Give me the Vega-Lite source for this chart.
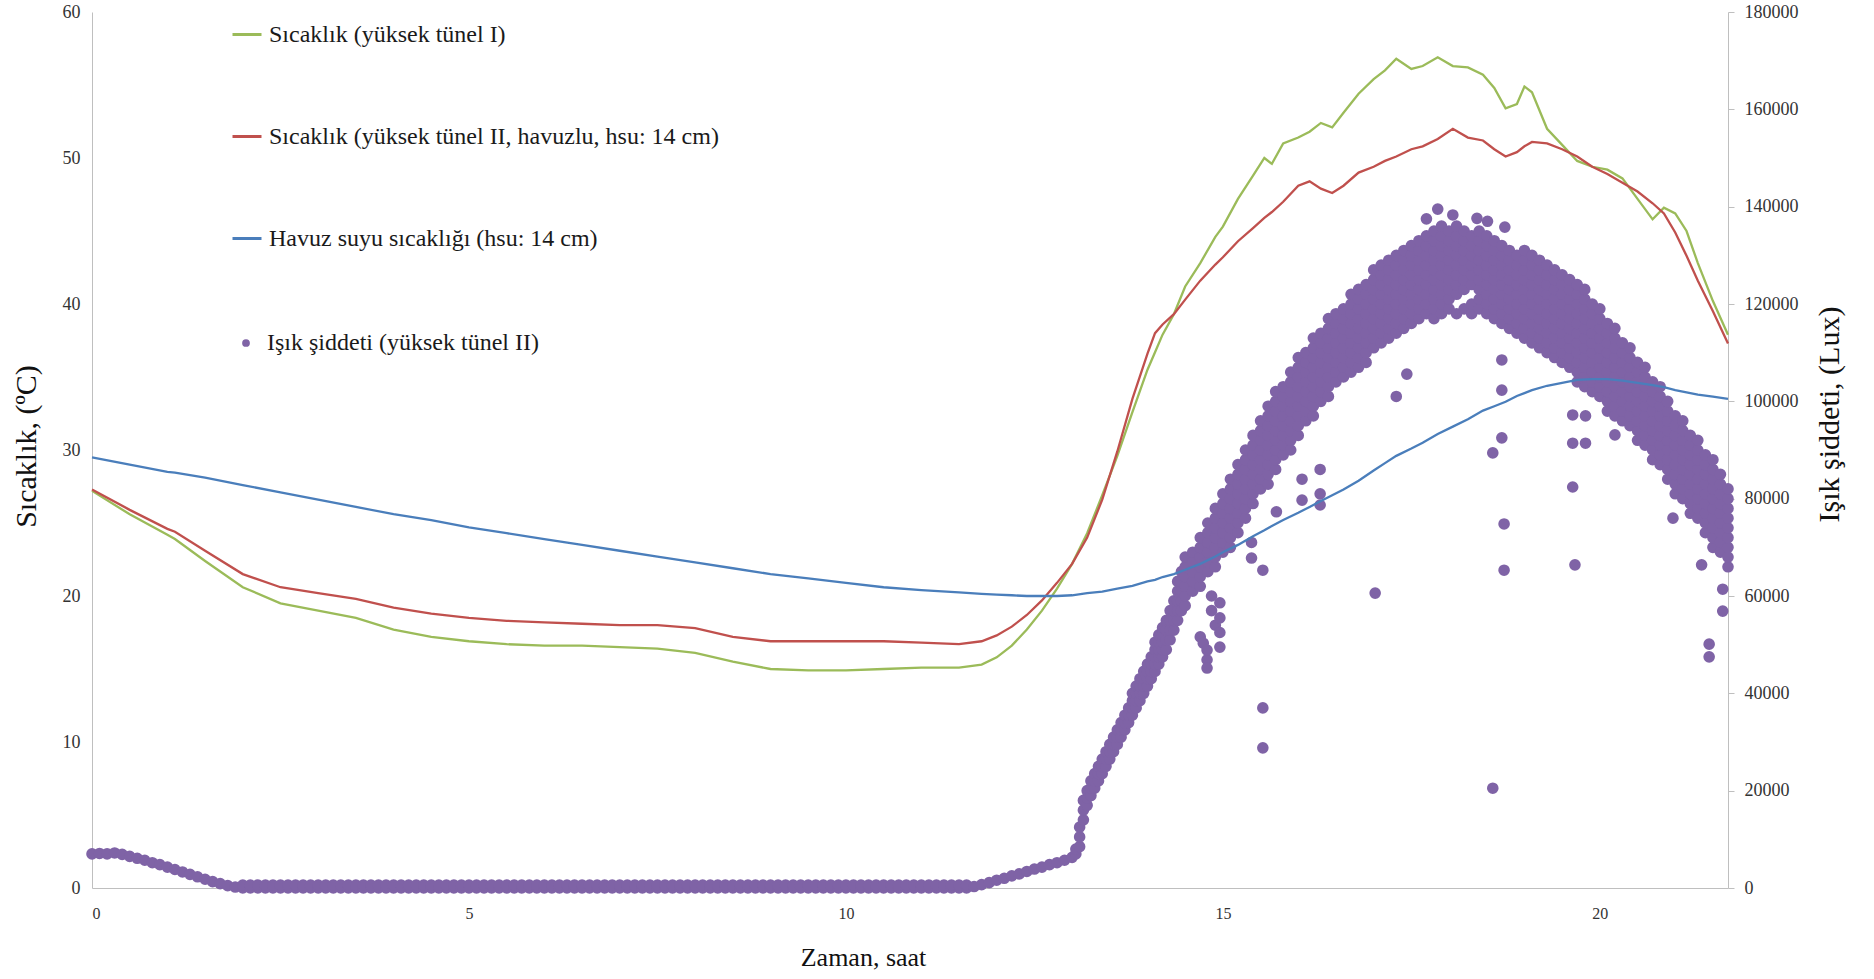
{
  "$schema": "https://vega.github.io/schema/vega-lite/v6.json",
  "width": 1636,
  "height": 876,
  "autosize": {"type": "none"},
  "padding": {"left": 92, "top": 12, "right": 146, "bottom": 91},
  "background": "white",
  "config": {"view": {"stroke": null}, "font": "Liberation Serif", "axis": {"grid": false}},
  "datasets": {
    "temps": [
      {"t":0,"g":27.2,"r":27.3,"b":29.5},{"t":0.5,"g":25.6,"r":25.9,"b":29.0},{"t":1.0,"g":24.2,"r":24.6,"b":28.5},{"t":1.1,"g":23.9,"r":24.4,"b":28.45},{"t":1.5,"g":22.4,"r":23.1,"b":28.1},
      {"t":2.0,"g":20.6,"r":21.5,"b":27.6},{"t":2.5,"g":19.5,"r":20.6,"b":27.1},{"t":3.0,"g":19.0,"r":20.2,"b":26.6},{"t":3.5,"g":18.5,"r":19.8,"b":26.1},
      {"t":4.0,"g":17.7,"r":19.2,"b":25.6},{"t":4.5,"g":17.2,"r":18.8,"b":25.2},{"t":5.0,"g":16.9,"r":18.5,"b":24.7},{"t":5.5,"g":16.7,"r":18.3,"b":24.3},
      {"t":6.0,"g":16.6,"r":18.2,"b":23.9},{"t":6.5,"g":16.6,"r":18.1,"b":23.5},{"t":7.0,"g":16.5,"r":18.0,"b":23.1},{"t":7.5,"g":16.4,"r":18.0,"b":22.7},
      {"t":8.0,"g":16.1,"r":17.8,"b":22.3},{"t":8.5,"g":15.5,"r":17.2,"b":21.9},{"t":9.0,"g":15.0,"r":16.9,"b":21.5},{"t":9.5,"g":14.9,"r":16.9,"b":21.2},
      {"t":10.0,"g":14.9,"r":16.9,"b":20.9},{"t":10.5,"g":15.0,"r":16.9,"b":20.6},{"t":11.0,"g":15.1,"r":16.8,"b":20.4},{"t":11.5,"g":15.1,"r":16.7,"b":20.25},
      {"t":11.8,"g":15.3,"r":16.9,"b":20.15},{"t":12.0,"g":15.8,"r":17.3,"b":20.1},{"t":12.2,"g":16.6,"r":17.9,"b":20.05},{"t":12.4,"g":17.7,"r":18.7,"b":20.0},
      {"t":12.6,"g":19.0,"r":19.7,"b":20.0},{"t":12.8,"g":20.5,"r":20.9,"b":20.0},{"t":13.0,"g":22.2,"r":22.2,"b":20.05},{"t":13.2,"g":24.3,"r":24.0,"b":20.2},
      {"t":13.4,"g":26.9,"r":26.6,"b":20.3},{"t":13.6,"g":29.6,"r":29.9,"b":20.5},{"t":13.8,"g":32.6,"r":33.5,"b":20.7},{"t":14.0,"g":35.5,"r":36.6,"b":21.0},
      {"t":14.1,"g":36.7,"r":38.0,"b":21.1},{"t":14.2,"g":37.9,"r":38.6,"b":21.3},{"t":14.35,"g":39.3,"r":39.3,"b":21.5},{"t":14.5,"g":41.2,"r":40.3,"b":21.8},
      {"t":14.7,"g":42.8,"r":41.6,"b":22.2},{"t":14.9,"g":44.6,"r":42.7,"b":22.7},{"t":15.0,"g":45.3,"r":43.2,"b":23.0},{"t":15.2,"g":47.2,"r":44.3,"b":23.5},
      {"t":15.4,"g":48.8,"r":45.2,"b":24.1},{"t":15.55,"g":50.0,"r":45.9,"b":24.5},{"t":15.65,"g":49.6,"r":46.3,"b":24.8},{"t":15.8,"g":51.0,"r":47.0,"b":25.2},
      {"t":16.0,"g":51.4,"r":48.1,"b":25.7},{"t":16.15,"g":51.8,"r":48.4,"b":26.1},{"t":16.3,"g":52.4,"r":47.9,"b":26.5},{"t":16.45,"g":52.1,"r":47.6,"b":26.9},
      {"t":16.6,"g":53.1,"r":48.1,"b":27.3},{"t":16.8,"g":54.4,"r":49.0,"b":27.9},{"t":17.0,"g":55.4,"r":49.4,"b":28.6},{"t":17.15,"g":56.0,"r":49.8,"b":29.1},
      {"t":17.3,"g":56.8,"r":50.1,"b":29.6},{"t":17.5,"g":56.1,"r":50.6,"b":30.1},{"t":17.65,"g":56.3,"r":50.8,"b":30.5},{"t":17.85,"g":56.9,"r":51.3,"b":31.1},
      {"t":18.05,"g":56.3,"r":52.0,"b":31.6},{"t":18.25,"g":56.2,"r":51.4,"b":32.1},{"t":18.45,"g":55.7,"r":51.2,"b":32.7},{"t":18.6,"g":54.8,"r":50.6,"b":33.0},
      {"t":18.75,"g":53.4,"r":50.1,"b":33.3},{"t":18.9,"g":53.7,"r":50.4,"b":33.7},{"t":19.0,"g":54.9,"r":50.8,"b":33.9},{"t":19.1,"g":54.5,"r":51.1,"b":34.1},
      {"t":19.3,"g":52.0,"r":51.0,"b":34.4},{"t":19.5,"g":50.9,"r":50.6,"b":34.6},{"t":19.7,"g":49.8,"r":50.1,"b":34.8},{"t":19.9,"g":49.4,"r":49.4,"b":34.85},
      {"t":20.1,"g":49.2,"r":48.9,"b":34.85},{"t":20.3,"g":48.6,"r":48.3,"b":34.75},{"t":20.5,"g":47.2,"r":47.7,"b":34.6},{"t":20.7,"g":45.8,"r":46.9,"b":34.45},
      {"t":20.85,"g":46.6,"r":46.2,"b":34.3},{"t":21.0,"g":46.2,"r":44.9,"b":34.1},{"t":21.15,"g":45.0,"r":43.3,"b":33.95},{"t":21.3,"g":42.8,"r":41.6,"b":33.8},
      {"t":21.5,"g":40.2,"r":39.5,"b":33.65},{"t":21.7,"g":37.9,"r":37.3,"b":33.5}
    ],
    "lux": [
      {"t":0,"v":[7000]},{"t":0.1,"v":[7100]},{"t":0.2,"v":[7000]},{"t":0.3,"v":[7200]},{"t":0.4,"v":[6900]},{"t":0.5,"v":[6500]},{"t":0.6,"v":[6100]},{"t":0.7,"v":[5700]},{"t":0.8,"v":[5200]},{"t":0.9,"v":[4800]},
      {"t":1.0,"v":[4300]},{"t":1.1,"v":[3800]},{"t":1.2,"v":[3300]},{"t":1.3,"v":[2800]},{"t":1.4,"v":[2300]},{"t":1.5,"v":[1800]},{"t":1.6,"v":[1300]},{"t":1.7,"v":[900]},{"t":1.8,"v":[500]},{"t":1.9,"v":[200]},
      {"t":2.0,"v":[0,600]},{"t":2.1,"v":[0,600]},{"t":2.2,"v":[0,600]},{"t":2.3,"v":[0,600]},{"t":2.4,"v":[0,600]},{"t":2.5,"v":[0,600]},{"t":2.6,"v":[0,600]},{"t":2.7,"v":[0,600]},{"t":2.8,"v":[0,600]},{"t":2.9,"v":[0,600]},
      {"t":3.0,"v":[0,600]},{"t":3.1,"v":[0,600]},{"t":3.2,"v":[0,600]},{"t":3.3,"v":[0,600]},{"t":3.4,"v":[0,600]},{"t":3.5,"v":[0,600]},{"t":3.6,"v":[0,600]},{"t":3.7,"v":[0,600]},{"t":3.8,"v":[0,600]},{"t":3.9,"v":[0,600]},
      {"t":4.0,"v":[0,600]},{"t":4.1,"v":[0,600]},{"t":4.2,"v":[0,600]},{"t":4.3,"v":[0,600]},{"t":4.4,"v":[0,600]},{"t":4.5,"v":[0,600]},{"t":4.6,"v":[0,600]},{"t":4.7,"v":[0,600]},{"t":4.8,"v":[0,600]},{"t":4.9,"v":[0,600]},
      {"t":5.0,"v":[0,600]},{"t":5.1,"v":[0,600]},{"t":5.2,"v":[0,600]},{"t":5.3,"v":[0,600]},{"t":5.4,"v":[0,600]},{"t":5.5,"v":[0,600]},{"t":5.6,"v":[0,600]},{"t":5.7,"v":[0,600]},{"t":5.8,"v":[0,600]},{"t":5.9,"v":[0,600]},
      {"t":6.0,"v":[0,600]},{"t":6.1,"v":[0,600]},{"t":6.2,"v":[0,600]},{"t":6.3,"v":[0,600]},{"t":6.4,"v":[0,600]},{"t":6.5,"v":[0,600]},{"t":6.6,"v":[0,600]},{"t":6.7,"v":[0,600]},{"t":6.8,"v":[0,600]},{"t":6.9,"v":[0,600]},
      {"t":7.0,"v":[0,600]},{"t":7.1,"v":[0,600]},{"t":7.2,"v":[0,600]},{"t":7.3,"v":[0,600]},{"t":7.4,"v":[0,600]},{"t":7.5,"v":[0,600]},{"t":7.6,"v":[0,600]},{"t":7.7,"v":[0,600]},{"t":7.8,"v":[0,600]},{"t":7.9,"v":[0,600]},
      {"t":8.0,"v":[0,600]},{"t":8.1,"v":[0,600]},{"t":8.2,"v":[0,600]},{"t":8.3,"v":[0,600]},{"t":8.4,"v":[0,600]},{"t":8.5,"v":[0,600]},{"t":8.6,"v":[0,600]},{"t":8.7,"v":[0,600]},{"t":8.8,"v":[0,600]},{"t":8.9,"v":[0,600]},
      {"t":9.0,"v":[0,600]},{"t":9.1,"v":[0,600]},{"t":9.2,"v":[0,600]},{"t":9.3,"v":[0,600]},{"t":9.4,"v":[0,600]},{"t":9.5,"v":[0,600]},{"t":9.6,"v":[0,600]},{"t":9.7,"v":[0,600]},{"t":9.8,"v":[0,600]},{"t":9.9,"v":[0,600]},
      {"t":10.0,"v":[0,600]},{"t":10.1,"v":[0,600]},{"t":10.2,"v":[0,600]},{"t":10.3,"v":[0,600]},{"t":10.4,"v":[0,600]},{"t":10.5,"v":[0,600]},{"t":10.6,"v":[0,600]},{"t":10.7,"v":[0,600]},{"t":10.8,"v":[0,600]},{"t":10.9,"v":[0,600]},
      {"t":11.0,"v":[0,600]},{"t":11.1,"v":[0,600]},{"t":11.2,"v":[0,600]},{"t":11.3,"v":[0,600]},{"t":11.4,"v":[0,600]},{"t":11.5,"v":[0,600]},{"t":11.6,"v":[0,600]},
      {"t":11.7,"v":[300]},{"t":11.8,"v":[700]},{"t":11.9,"v":[1100]},{"t":12.0,"v":[1600]},{"t":12.1,"v":[2000]},{"t":12.2,"v":[2500]},{"t":12.3,"v":[2900]},{"t":12.4,"v":[3400]},
      {"t":12.5,"v":[3900]},{"t":12.6,"v":[4300]},{"t":12.7,"v":[4800]},{"t":12.8,"v":[5200]},{"t":12.9,"v":[5700]},{"t":13.0,"v":[6300]},{"t":13.05,"v":[7000,8000]},
      {"t":13.1,"v":[8500,10500,12500]},{"t":13.15,"v":[14000,16000,18000]},{"t":13.2,"v":[17000,18500,20000]},
      {"t":13.25,"v":[19000,20500,22000]},{"t":13.3,"v":[20500,22000,23500]},{"t":13.35,"v":[22000,23500,25000]},{"t":13.4,"v":[23500,25000,26500]},{"t":13.45,"v":[25000,26500,28000]},
      {"t":13.5,"v":[26500,28000,29500]},{"t":13.55,"v":[28000,29500,31000]},{"t":13.6,"v":[29500,31000,32500]},{"t":13.65,"v":[31000,32500,34000]},{"t":13.7,"v":[32500,34000,35500]},
      {"t":13.75,"v":[34000,35500,37000]},{"t":13.8,"v":[35500,37000,38500,40000]},{"t":13.85,"v":[37000,38500,40000,41500]},{"t":13.9,"v":[38500,40000,41500,43000]},{"t":13.95,"v":[40000,41500,43000,44500]},
      {"t":14.0,"v":[41500,43000,44500,46000]},{"t":14.05,"v":[43000,44500,46000,47500]},{"t":14.1,"v":[44500,46000,47500,49000,50500]},{"t":14.15,"v":[46000,47500,49000,50500,52000]},{"t":14.2,"v":[47500,49000,50500,52000,53500]},
      {"t":14.25,"v":[49000,51000,53000,55000]},{"t":14.3,"v":[51000,53000,55000,57000]},{"t":14.35,"v":[53000,55000,57000,59000]},{"t":14.4,"v":[55000,57000,59000,61000,63000]},{"t":14.45,"v":[57000,59000,61000,63000,65000]},
      {"t":14.5,"v":[58000,60000,62000,64000,66000,68000]},
      {"t":14.6,"v":[61000,63000,65000,67000,69000]},
      {"t":14.7,"v":[62000,64000,66000,68000,70000,72000]},
      {"t":14.8,"v":[65000,67000,69000,71000,73000,75000]},
      {"t":14.9,"v":[66000,68000,70000,72000,74000,76000,78000]},
      {"t":15.0,"v":[69000,71000,73000,75000,77000,79000,81000]},
      {"t":15.1,"v":[70000,72000,74000,76000,78000,80000,82000,84000]},
      {"t":15.2,"v":[73000,75000,77000,79000,81000,83000,85000,87000]},
      {"t":15.3,"v":[76000,78000,80000,82000,84000,86000,88000,90000]},
      {"t":15.4,"v":[79000,81000,83000,85000,87000,89000,91000,93000]},
      {"t":15.5,"v":[82000,84000,86000,88000,90000,92000,94000,96000]},
      {"t":15.6,"v":[83000,85000,87000,89000,91000,93000,95000,97000,99000]},
      {"t":15.7,"v":[86000,88000,90000,92000,94000,96000,98000,100000,102000]},
      {"t":15.8,"v":[89000,91000,93000,95000,97000,99000,101000,103000]},
      {"t":15.9,"v":[90000,92000,94000,96000,98000,100000,102000,104000,106000]},
      {"t":16.0,"v":[93000,95000,97000,99000,101000,103000,105000,107000,109000]},
      {"t":16.1,"v":[96000,98000,100000,102000,104000,106000,108000,110000]},
      {"t":16.2,"v":[97000,99000,101000,103000,105000,107000,109000,111000,113000]},
      {"t":16.3,"v":[100000,102000,104000,106000,108000,110000,112000,114000]},
      {"t":16.4,"v":[101000,103000,105000,107000,109000,111000,113000,115000,117000]},
      {"t":16.5,"v":[104000,106000,108000,110000,112000,114000,116000,118000]},
      {"t":16.6,"v":[105000,107000,109000,111000,113000,115000,117000,119000]},
      {"t":16.7,"v":[106000,108000,110000,112000,114000,116000,118000,120000,122000]},
      {"t":16.8,"v":[107000,109000,111000,113000,115000,117000,119000,121000,123000]},
      {"t":16.9,"v":[108000,110000,112000,114000,116000,118000,120000,122000,124000]},
      {"t":17.0,"v":[111000,113000,115000,117000,119000,121000,123000,125000,127000]},
      {"t":17.1,"v":[112000,114000,116000,118000,120000,122000,124000,126000,128000]},
      {"t":17.2,"v":[113000,115000,117000,119000,121000,123000,125000,127000,129000]},
      {"t":17.3,"v":[114000,116000,118000,120000,122000,124000,126000,128000,130000]},
      {"t":17.4,"v":[115000,117000,119000,121000,123000,125000,127000,129000,131000]},
      {"t":17.5,"v":[116000,118000,120000,122000,124000,126000,128000,130000,132000]},
      {"t":17.6,"v":[117000,119000,121000,123000,125000,127000,129000,131000,133000]},
      {"t":17.7,"v":[118000,120000,122000,124000,126000,128000,130000,132000,134000]},
      {"t":17.8,"v":[117000,119000,121000,123000,125000,127000,129000,131000,133000,135000]},
      {"t":17.9,"v":[118000,120000,122000,124000,126000,128000,130000,132000,134000,136000]},
      {"t":18.0,"v":[119000,121000,123000,125000,127000,129000,131000,133000,135000]},
      {"t":18.1,"v":[118000,122000,124000,126000,128000,130000,132000,134000,136000]},
      {"t":18.2,"v":[119000,123000,125000,127000,129000,131000,133000,135000]},
      {"t":18.3,"v":[118000,120000,124000,126000,128000,130000,132000,134000]},
      {"t":18.4,"v":[119000,121000,123000,125000,127000,129000,131000,133000,135000]},
      {"t":18.5,"v":[118000,120000,122000,124000,126000,128000,130000,132000,134000]},
      {"t":18.6,"v":[117000,119000,121000,123000,125000,127000,129000,131000,133000]},
      {"t":18.7,"v":[116000,118000,120000,122000,124000,126000,128000,130000,132000]},
      {"t":18.8,"v":[115000,117000,119000,121000,123000,125000,127000,129000,131000]},
      {"t":18.9,"v":[114000,116000,118000,120000,122000,124000,126000,128000,130000]},
      {"t":19.0,"v":[113000,115000,117000,119000,121000,123000,125000,127000,129000,131000]},
      {"t":19.1,"v":[112000,114000,116000,118000,120000,122000,124000,126000,128000,130000]},
      {"t":19.2,"v":[111000,113000,115000,117000,119000,121000,123000,125000,127000,129000]},
      {"t":19.3,"v":[110000,112000,114000,116000,118000,120000,122000,124000,126000,128000]},
      {"t":19.4,"v":[109000,111000,113000,115000,117000,119000,121000,123000,125000,127000]},
      {"t":19.5,"v":[108000,110000,112000,114000,116000,118000,120000,122000,124000,126000]},
      {"t":19.6,"v":[107000,109000,111000,113000,115000,117000,119000,121000,123000,125000]},
      {"t":19.7,"v":[104000,106000,108000,110000,112000,114000,116000,118000,120000,122000,124000]},
      {"t":19.8,"v":[103000,105000,107000,109000,111000,113000,115000,117000,119000,121000,123000]},
      {"t":19.9,"v":[102000,104000,106000,108000,110000,112000,114000,116000,118000,120000]},
      {"t":20.0,"v":[101000,103000,105000,107000,109000,111000,113000,115000,117000,119000]},
      {"t":20.1,"v":[98000,100000,102000,104000,106000,108000,110000,112000,114000,116000]},
      {"t":20.2,"v":[97000,99000,101000,103000,105000,107000,109000,111000,113000,115000]},
      {"t":20.3,"v":[96000,98000,100000,102000,104000,106000,108000,110000,112000]},
      {"t":20.4,"v":[95000,97000,99000,101000,103000,105000,107000,109000,111000]},
      {"t":20.5,"v":[92000,94000,96000,98000,100000,102000,104000,106000,108000]},
      {"t":20.6,"v":[91000,93000,95000,97000,99000,101000,103000,105000,107000]},
      {"t":20.7,"v":[88000,90000,92000,94000,96000,98000,100000,102000,104000]},
      {"t":20.8,"v":[87000,89000,91000,93000,95000,97000,99000,101000,103000]},
      {"t":20.9,"v":[84000,86000,88000,90000,92000,94000,96000,98000,100000]},
      {"t":21.0,"v":[81000,83000,85000,87000,89000,91000,93000,95000,97000]},
      {"t":21.1,"v":[80000,82000,84000,86000,88000,90000,92000,94000,96000]},
      {"t":21.2,"v":[77000,79000,81000,83000,85000,87000,89000,91000,93000]},
      {"t":21.3,"v":[76000,78000,80000,82000,84000,86000,88000,90000,92000]},
      {"t":21.4,"v":[73000,75000,77000,79000,81000,83000,85000,87000,89000]},
      {"t":21.5,"v":[70000,72000,74000,76000,78000,80000,82000,84000,86000,88000]},
      {"t":21.6,"v":[69000,71000,73000,75000,77000,79000,81000,83000,85000]},
      {"t":21.7,"v":[66000,68000,70000,72000,74000,76000,78000,80000,82000]},
      {"t":14.7,"v":[51600]},{"t":14.74,"v":[50300]},{"t":14.79,"v":[46900,45200,48900]},{"t":14.9,"v":[54000]},{"t":14.96,"v":[58600,55500,52500,49500]},
      {"t":14.85,"v":[57000,60000]},{"t":15.38,"v":[67800,71000]},{"t":15.53,"v":[65300,37000,28800]},{"t":15.71,"v":[77300]},{"t":16.05,"v":[79700,84000]},
      {"t":16.29,"v":[81000,78700,86000]},{"t":17.02,"v":[60600]},{"t":17.44,"v":[105600]},{"t":17.3,"v":[101000]},{"t":17.85,"v":[139500]},{"t":18.05,"v":[138300]},
      {"t":18.37,"v":[137600]},{"t":18.51,"v":[137000]},{"t":18.74,"v":[135800]},{"t":17.7,"v":[137500]},{"t":18.58,"v":[20500,89400]},{"t":18.7,"v":[108500,102300,92500]},
      {"t":18.73,"v":[74800,65300]},{"t":19.64,"v":[97200,91400,82400]},{"t":19.67,"v":[66400]},{"t":19.81,"v":[91400,97000]},{"t":20.2,"v":[93100]},{"t":20.97,"v":[76000]},
      {"t":21.35,"v":[66400]},{"t":21.45,"v":[50100,47500]},{"t":21.63,"v":[56900,61400]}
    ]
  },
  "layer": [
    {
      "data": {"name": "lux"},
      "transform": [{"flatten": ["v"]}],
      "mark": {"type": "point", "filled": true, "opacity": 1, "size": 135, "color": "#7F63A6", "strokeWidth": 0},
      "encoding": {
        "x": {"field": "t", "type": "quantitative", "scale": {"domain": [0, 21.7], "nice": false, "zero": false},
              "axis": {"orient": "bottom", "title": "Zaman, saat", "values": [0, 5, 10, 15, 20], "ticks": false, "labelFontSize": 16, "labelPadding": 17, "labelColor": "#333333", "labelFont": "Liberation Serif", "domainColor": "#BFBFBF", "titleFont": "Liberation Serif", "titleFontSize": 26, "titleFontWeight": "normal", "titleColor": "#111111", "titleX": 771, "titleY": 69, "titleAlign": "center", "titleBaseline": "middle"}},
        "y": {"field": "v", "type": "quantitative", "scale": {"domain": [0, 180000], "nice": false},
              "axis": {"orient": "right", "title": "Işık şiddeti, (Lux)", "values": [0, 20000, 40000, 60000, 80000, 100000, 120000, 140000, 160000, 180000], "format": "d", "tickSize": 6, "tickColor": "#BFBFBF", "labelPadding": 10, "labelFontSize": 18, "labelColor": "#333333", "labelFont": "Liberation Serif", "domainColor": "#BFBFBF", "titleFont": "Liberation Serif", "titleFontSize": 30, "titleFontWeight": "normal", "titleColor": "#111111", "titleX": 101, "titleY": 402, "titleAngle": -90, "titleAlign": "center", "titleBaseline": "middle"}},
        "shape": {"datum": "Işık şiddeti (yüksek tünel II)", "type": "nominal", "scale": {"range": ["circle"]},
                  "legend": {"orient": "none", "legendX": 142, "legendY": 319, "title": null, "padding": 0,
                             "labelFont": "Liberation Serif", "labelFontSize": 24, "labelColor": "#1a1a1a", "labelLimit": 0,
                             "symbolSize": 60, "labelOffset": 9, "symbolFillColor": "#7F63A6", "symbolStrokeWidth": 0, "symbolOpacity": 1}}
      }
    },
    {
      "data": {"name": "temps"},
      "transform": [{"fold": ["g", "r", "b"], "as": ["key", "temp"]}],
      "mark": {"type": "line", "strokeWidth": 2.3},
      "encoding": {
        "x": {"field": "t", "type": "quantitative", "scale": {"domain": [0, 21.7], "nice": false, "zero": false},
              "axis": {"orient": "bottom", "title": "Zaman, saat", "values": [0, 5, 10, 15, 20], "ticks": false, "labelFontSize": 16, "labelPadding": 17, "labelColor": "#333333", "labelFont": "Liberation Serif", "domainColor": "#BFBFBF", "titleFont": "Liberation Serif", "titleFontSize": 26, "titleFontWeight": "normal", "titleColor": "#111111", "titleX": 771, "titleY": 69, "titleAlign": "center", "titleBaseline": "middle"}},
        "y": {"field": "temp", "type": "quantitative", "scale": {"domain": [0, 60], "nice": false},
              "axis": {"orient": "left", "title": "Sıcaklık, (ºC)", "values": [0, 10, 20, 30, 40, 50, 60], "ticks": false, "labelPadding": 12, "labelFontSize": 18, "labelColor": "#333333", "labelFont": "Liberation Serif", "domainColor": "#BFBFBF", "titleFont": "Liberation Serif", "titleFontSize": 30, "titleFontWeight": "normal", "titleColor": "#111111", "titleX": -66, "titleY": 434, "titleAngle": -90, "titleAlign": "center", "titleBaseline": "middle"}},
        "color": {"field": "key", "type": "nominal",
                  "scale": {"domain": ["g", "r", "b"], "range": ["#9BBB59", "#C0504D", "#4A7EBB"]},
                  "legend": {"orient": "none", "legendX": 139, "legendY": 6.5, "title": null, "direction": "vertical", "padding": 0,
                             "labelFont": "Liberation Serif", "labelFontSize": 24, "labelColor": "#1a1a1a", "labelLimit": 0,
                             "symbolSize": 841, "rowPadding": 74, "labelOffset": 6, "symbolType": "stroke", "symbolStrokeWidth": 3,
                             "labelExpr": "datum.value == 'g' ? 'Sıcaklık (yüksek tünel I)' : datum.value == 'r' ? 'Sıcaklık (yüksek tünel II, havuzlu, hsu: 14 cm)' : 'Havuz suyu sıcaklığı (hsu: 14 cm)'"}}
      }
    }
  ],
  "resolve": {"scale": {"y": "independent"}}
}
